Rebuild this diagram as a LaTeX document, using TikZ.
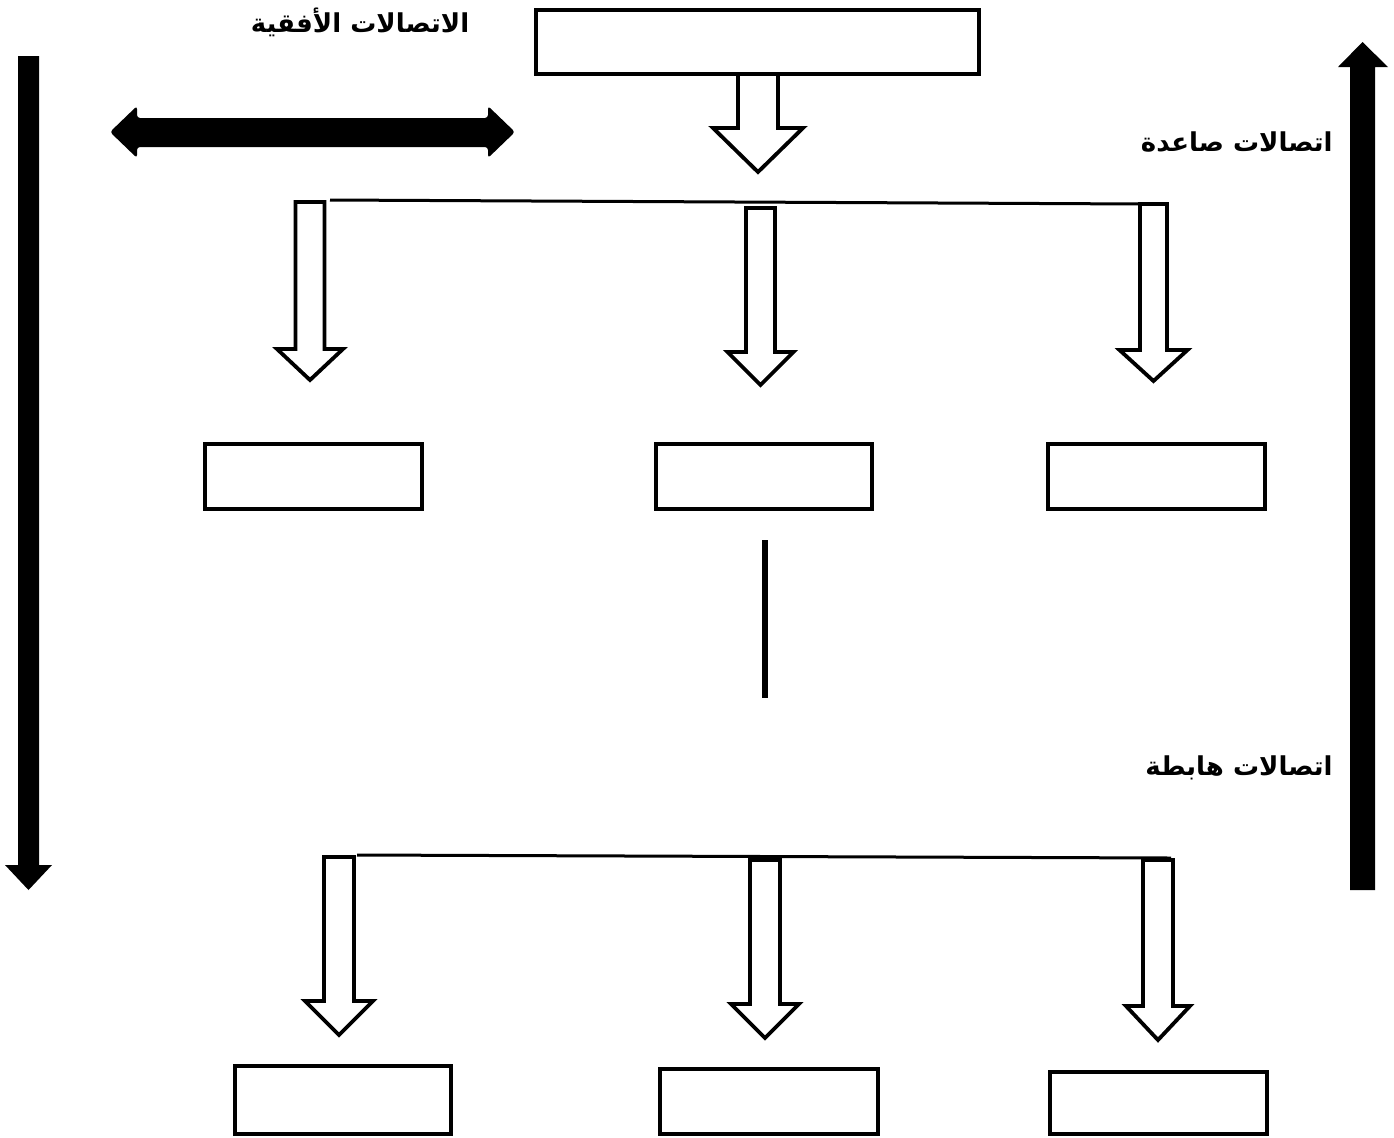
\documentclass[tikz,border=0pt]{standalone}
\usepackage{fontspec}
\newfontfamily\arabicfont[Script=Arabic]{DejaVu Sans}
\TeXXeTstate=1
\begin{document}
\begin{tikzpicture}[x=0.5pt,y=-0.5pt,
  box/.style={draw=black,line width=2pt,fill=white,inner sep=0pt},
  hollow/.style={draw=black,line width=1.9pt,fill=white,line join=miter},
  solid/.style={fill=black,draw=none},
  thinline/.style={draw=black,line width=1.5pt},
  lbl/.style={font=\arabicfont\bfseries\fontsize{13}{15}\selectfont,inner sep=0pt}]
\useasboundingbox (0,0) rectangle (1394,1137);
% hollow arrow macro
\newcommand\hollowarrow[6]{% cx, top, headstart, tip, shaft half, head half
  \draw[hollow] ({#1-#5},#2) -- ({#1+#5},#2) -- ({#1+#5},#3) -- ({#1+#6},#3) -- (#1,#4) -- ({#1-#6},#3) -- ({#1-#5},#3) -- cycle;}
% top arrow
\hollowarrow{758}{74}{128}{172}{20}{45}
\node[box,minimum width=221.5pt,minimum height=32pt] (top) at (757.5,42) {};
% upper bus line
\draw[thinline] (330,200) -- (1143,204);
\hollowarrow{310}{202}{349}{380}{14.5}{33}
\hollowarrow{760.5}{208}{352}{385}{14.5}{33}
\hollowarrow{1153.5}{204}{350}{381}{13.5}{34}
% middle boxes
\node[box,minimum width=108.5pt,minimum height=32.5pt] (m1) at (313.5,476.5) {};
\node[box,minimum width=108pt,minimum height=32.5pt] (m2) at (764,476.5) {};
\node[box,minimum width=108.5pt,minimum height=32.5pt] (m3) at (1156.5,476.5) {};
% vertical line
\coordinate (v1) at (765,540);
\coordinate (v2) at (765,698);
\draw[black,line width=3pt] (v1) -- (v2);
% lower bus line
\draw[thinline] (357,855) -- (1171,858);
\hollowarrow{339}{857}{1001}{1035}{15}{34}
\hollowarrow{765}{860}{1004}{1038}{15}{34}
\hollowarrow{1158}{860}{1006}{1040}{15}{32}
% bottom boxes
\node[box,minimum width=108pt,minimum height=34pt] (b1) at (343,1100) {};
\node[box,minimum width=109pt,minimum height=32.5pt] (b2) at (769,1101.5) {};
\node[box,minimum width=108.5pt,minimum height=31pt] (b3) at (1158.5,1103) {};
% left downward arrow
\fill[solid] (18,56) -- (39,56) -- (39,865) -- (52,865) -- (28.5,890) -- (5,865) -- (18,865) -- cycle;
% right upward arrow
\fill[solid] (1350,890) -- (1375,890) -- (1375,67) -- (1388,67) -- (1362.5,42) -- (1338,67) -- (1350,67) -- cycle;
% double arrow
\fill[solid,rounded corners=1.5pt] (110,132) -- (137,106) -- (137,118) -- (488,118) -- (488,106) -- (515,132) -- (488,158) -- (488,147) -- (137,147) -- (137,158) -- cycle;
% labels
\node[lbl] (h) at (360,22) {\beginR الاتصالات الأفقية\endR};
\node[lbl,anchor=east] (up) at (1333,142) {\beginR اتصالات صاعدة\endR};
\node[lbl,anchor=east] (down) at (1333,768) {\beginR اتصالات هابطة\endR};
\end{tikzpicture}
\end{document}
